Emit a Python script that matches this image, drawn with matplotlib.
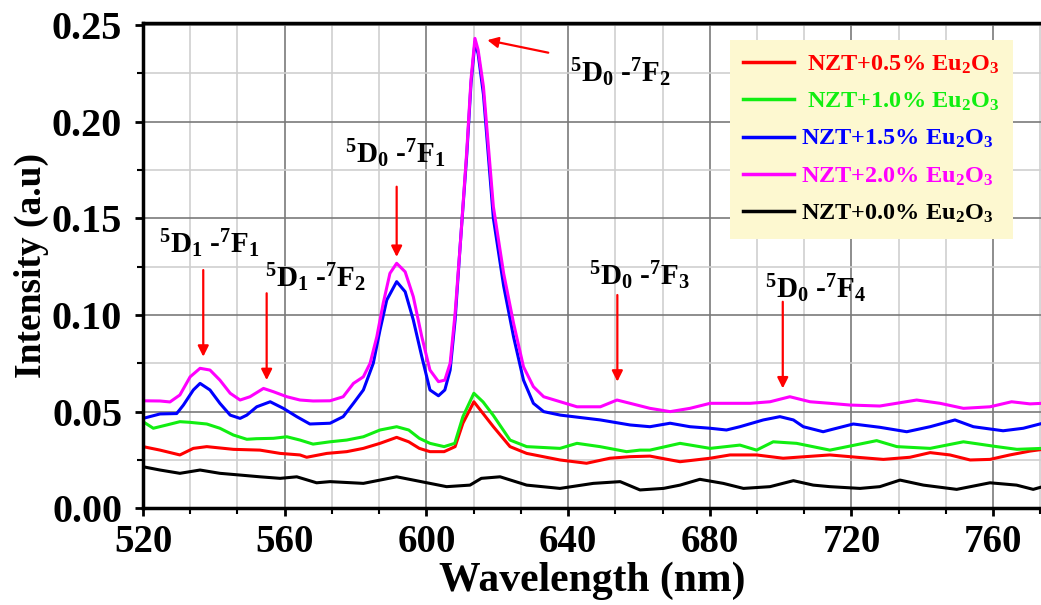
import numpy as np
import matplotlib
matplotlib.use('Agg')
import matplotlib.pyplot as plt
from matplotlib.ticker import MultipleLocator, FormatStrFormatter

plt.rcParams['font.family'] = ['Liberation Serif', 'DejaVu Serif']
plt.rcParams['font.weight'] = 'bold'
plt.rcParams['mathtext.fontset'] = 'custom'
plt.rcParams['mathtext.rm'] = 'Liberation Serif:bold'
plt.rcParams['mathtext.it'] = 'Liberation Serif:bold:italic'
plt.rcParams['mathtext.bf'] = 'Liberation Serif:bold'

# Данни, отчетени от графиката (дължина на вълната, интензитет)
wl_20 = [520, 524.8, 527.6, 530.4, 533.3, 536.1, 538.9, 541.7, 544.6, 547.4, 550.2, 554, 556.8,
         560.6, 564.3, 568, 572.8, 576.5, 579.4, 582.2, 584.1, 586, 587.8, 589.7, 591.6, 594,
         596.3, 598.7, 601, 603.4, 605.2, 606.7, 608.1, 609.5, 611.4, 612.6, 613.7, 614.6, 616.1,
         618.9, 621.8, 624.6, 627.4, 630.2, 633.1, 637.8, 642.5, 649.1, 653.8, 657.5, 663.1,
         668.8, 674.4, 680.1, 685.7, 691.4, 697, 702.6, 708.3, 713.9, 719.6, 728, 738.4, 745,
         751.6, 759.1, 765.2, 770.4, 774]
int_20 = [0.0556, 0.0555, 0.055, 0.0586, 0.068, 0.0724, 0.0715, 0.0663, 0.0595, 0.056, 0.0577,
          0.062, 0.0603, 0.0577, 0.056, 0.0555, 0.0556, 0.0577, 0.0646, 0.068, 0.075, 0.0887,
          0.106, 0.1215, 0.1267, 0.1223, 0.1094, 0.0887, 0.0715, 0.0655, 0.0663, 0.075, 0.1008,
          0.135, 0.185, 0.222, 0.243, 0.237, 0.218, 0.156, 0.1215, 0.0957, 0.0732, 0.0629,
          0.0577, 0.0551, 0.0525, 0.0525, 0.056, 0.0543, 0.0517, 0.05, 0.0517, 0.0543, 0.0543,
          0.0543, 0.0551, 0.0577, 0.0551, 0.0543, 0.0534, 0.0529, 0.056, 0.0543, 0.0517, 0.0525,
          0.0551, 0.054, 0.0543]

wl_15 = [520, 524.8, 529.5, 531.4, 534.2, 536.1, 538.9, 541.7, 544.6, 547.4, 549.3, 552.1, 555.9,
         559.6, 563.4, 567.1, 572.8, 576.5, 579.4, 582.2, 585, 586.9, 588.8, 591.6, 594, 596.3,
         598.7, 601, 603.4, 605.2, 606.7, 608.1, 609.5, 611.4, 612.6, 613.7, 614.6, 616.1, 618.9,
         621.8, 624.6, 627.4, 630.2, 633.1, 637.8, 649.1, 657.5, 663.1, 668.8, 674.4, 680.1,
         684.7, 688.5, 695.1, 699.8, 703.6, 706.4, 712, 714.5, 720.5, 728, 735.6, 742.2, 749.2,
         754.4, 762.8, 768.5, 774]
int_15 = [0.0465, 0.0488, 0.049, 0.0534, 0.0612, 0.0646, 0.0612, 0.0543, 0.0482, 0.0465, 0.0482,
          0.0525, 0.0551, 0.0517, 0.0474, 0.0436, 0.044, 0.0474, 0.0543, 0.0612, 0.075, 0.0922,
          0.1077, 0.1172, 0.112, 0.0974, 0.0784, 0.0612, 0.0582, 0.0612, 0.0715, 0.0974, 0.135,
          0.183, 0.22, 0.241, 0.235, 0.214, 0.15, 0.115, 0.0887, 0.0663, 0.0543, 0.05, 0.0482,
          0.0457, 0.0431, 0.0422, 0.044, 0.0422, 0.0414, 0.0405, 0.0422, 0.0457, 0.0474, 0.0457,
          0.0422, 0.0396, 0.0408, 0.0436, 0.0419, 0.0396, 0.0422, 0.0457, 0.0422, 0.0401, 0.0414,
          0.044]

wl_10 = [520, 522.9, 526.7, 530.4, 533, 538, 541.7, 545.5, 549.3, 552, 556.8, 560.6, 564.3, 568,
         572.8, 577.5, 582.2, 586.9, 591.6, 595, 598, 601, 605, 608, 610.3, 613.4, 616, 618.9,
         623.6, 628.3, 637.7, 642.5, 649, 656.5, 660.3, 663.1, 671.6, 680.1, 688.5, 693.2, 697.9,
         704.5, 713.9, 719.6, 727.1, 732.8, 742.2, 751.6, 761, 766.7, 774]
int_10 = [0.0448, 0.0414, 0.0431, 0.0448, 0.0445, 0.0436, 0.0414, 0.0379, 0.0357, 0.036, 0.0362,
          0.037, 0.0353, 0.0332, 0.0344, 0.0353, 0.037, 0.0405, 0.0422, 0.0405, 0.0362, 0.0336,
          0.0319, 0.0336, 0.0474, 0.0595, 0.055, 0.048, 0.0353, 0.0319, 0.031, 0.0336, 0.0319,
          0.0293, 0.0301, 0.0301, 0.0336, 0.031, 0.0327, 0.0301, 0.0344, 0.0336, 0.0301, 0.0322,
          0.035, 0.0319, 0.031, 0.0344, 0.0319, 0.0305, 0.031]

wl_05 = [520, 524.8, 530.4, 534.2, 538, 545.5, 553, 558.7, 564.3, 566.2, 571.9, 577.5, 582.2,
         586.9, 591.6, 595, 598, 601, 605, 608.1, 610.3, 613.4, 616, 618.9, 623.6, 628.3, 637.7,
         645.2, 651.8, 657.5, 663.1, 671.6, 680.1, 685.7, 693.2, 700.7, 709.2, 713.9, 721.5, 729,
         736.5, 742.2, 747.8, 753.5, 759.1, 764.7, 770.4, 774]
int_05 = [0.0319, 0.0301, 0.0276, 0.031, 0.0319, 0.0305, 0.0301, 0.0284, 0.0276, 0.0264, 0.0284,
          0.0293, 0.031, 0.0336, 0.0367, 0.0344, 0.031, 0.0293, 0.0293, 0.0319, 0.044, 0.0551,
          0.049, 0.0422, 0.0319, 0.0284, 0.025, 0.0233, 0.0259, 0.0267, 0.027, 0.0241, 0.0259,
          0.0276, 0.0276, 0.0259, 0.027, 0.0276, 0.0264, 0.0253, 0.0264, 0.0288, 0.0276, 0.025,
          0.0253, 0.0276, 0.0296, 0.0305]

wl_00 = [520, 524.8, 530.4, 536.1, 541.7, 547.4, 553, 558.7, 563.4, 569, 572.8, 582.2, 591.6,
         601, 605.7, 612.3, 615.5, 620.8, 628.3, 637.7, 647.1, 654.7, 660.3, 666.9, 671.6, 677.2,
         683.8, 689.5, 697, 703.6, 709.2, 713.9, 722.4, 728, 733.7, 740.3, 749.7, 759.1, 766.6,
         771.3, 774]
int_00 = [0.0215, 0.0198, 0.0181, 0.0198, 0.0181, 0.0172, 0.0163, 0.0155, 0.0163, 0.0132, 0.0138,
          0.0129, 0.0163, 0.0129, 0.0112, 0.012, 0.0155, 0.0163, 0.012, 0.0103, 0.0129, 0.0138,
          0.0095, 0.0103, 0.012, 0.015, 0.0129, 0.0103, 0.0112, 0.0143, 0.012, 0.0112, 0.0103,
          0.0112, 0.0146, 0.012, 0.0098, 0.0132, 0.012, 0.0098, 0.0112]

labels = [' NZT+0.5% Eu$_2$O$_3$', ' NZT+1.0% Eu$_2$O$_3$', 'NZT+1.5% Eu$_2$O$_3$',
          'NZT+2.0% Eu$_2$O$_3$', 'NZT+0.0% Eu$_2$O$_3$']
colors = ['#ff0000', '#11ee11', '#0000ff', '#ff00ff', '#000000']

fig = plt.figure(figsize=(10.41, 6.05), dpi=100)
ax = fig.add_axes([0.1374, 0.1598, 0.8626, 0.8017])

h00, = ax.plot(wl_00, int_00, color=colors[4], lw=2.2, label=labels[4])
h05, = ax.plot(wl_05, int_05, color=colors[0], lw=2.2, label=labels[0])
h10, = ax.plot(wl_10, int_10, color=colors[1], lw=2.2, label=labels[1])
h15, = ax.plot(wl_15, int_15, color=colors[2], lw=2.2, label=labels[2])
h20, = ax.plot(wl_20, int_20, color=colors[3], lw=2.2, label=labels[3])

ax.set_xlim(520, 773.5)
ax.set_ylim(0, 0.2508)
ax.xaxis.set_major_locator(MultipleLocator(40))
ax.xaxis.set_minor_locator(MultipleLocator(40 / 3))
ax.yaxis.set_major_locator(MultipleLocator(0.05))
ax.yaxis.set_minor_locator(MultipleLocator(0.025))
ax.yaxis.set_major_formatter(FormatStrFormatter('%.2f'))

ax.grid(which='major', color='#7a7a7a', lw=1.2)
ax.grid(which='minor', color='#cfcfcf', lw=1.2)
ax.set_axisbelow(True)

for side in ['left', 'bottom', 'top']:
    ax.spines[side].set_linewidth(2.5)
ax.spines['right'].set_visible(False)
ax.tick_params(which='major', direction='out', length=6, width=2, pad=4)
ax.tick_params(which='minor', direction='out', length=4, width=1.5)
ax.tick_params(axis='y', which='major', labelsize=29, pad=9)
ax.tick_params(axis='x', which='major', labelsize=28, pad=5)

ax.set_xlabel('Wavelength (nm)', fontsize=30, fontweight='bold', labelpad=1)
ax.set_ylabel('Intensity (a.u)', fontsize=27, fontweight='bold', labelpad=2)

leg = ax.legend(handles=[h05, h10, h15, h20, h00], loc='upper right',
                bbox_to_anchor=(1013 / 1041, 1 - 40 / 605), bbox_transform=fig.transFigure,
                borderaxespad=0, fontsize=17.5, facecolor='#fdf8d0', edgecolor='none',
                framealpha=1, fancybox=False, handlelength=2.1, handletextpad=0.3,
                labelspacing=0.62, borderpad=0.55, labelcolor=colors)
for line in leg.get_lines():
    line.set_linewidth(2.5)

# Анотации на преходите
arrow_kw = dict(arrowstyle='-|>', color='red', lw=1.6, mutation_scale=16, shrinkA=0, shrinkB=0)
notes = [
    ('$^{5}$D$_{1}$ -$^{7}$F$_{1}$', (524.6, 0.1318), (537.0, 0.1232), (537.0, 0.0784)),
    ('$^{5}$D$_{1}$ -$^{7}$F$_{2}$', (554.4, 0.1143), (554.9, 0.1112), (554.9, 0.0663)),
    ('$^{5}$D$_{0}$ -$^{7}$F$_{1}$', (577.0, 0.1784), (591.6, 0.1663), (591.6, 0.1300)),
    ('$^{5}$D$_{0}$ -$^{7}$F$_{2}$', (640.5, 0.2206), (634.4, 0.2356), (617.2, 0.2421)),
    ('$^{5}$D$_{0}$ -$^{7}$F$_{3}$', (645.9, 0.1155), (653.9, 0.1103), (653.9, 0.0655)),
    ('$^{5}$D$_{0}$ -$^{7}$F$_{4}$', (695.6, 0.1088), (700.6, 0.1068), (700.6, 0.0620)),
]
for txt, pos, tail, tip in notes:
    ax.text(pos[0], pos[1], txt, fontsize=21, fontweight='bold', ha='left', va='baseline')
    ax.annotate('', xy=tip, xytext=tail, arrowprops=arrow_kw)

fig.savefig('out.png', dpi=100)
